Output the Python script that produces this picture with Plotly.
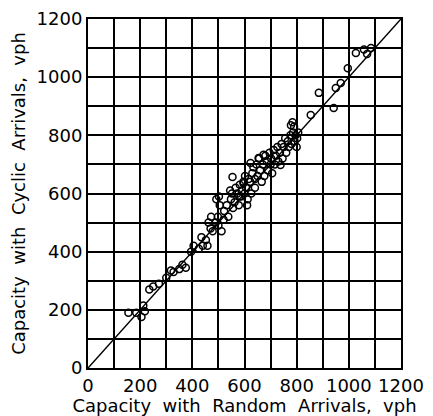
import plotly.graph_objects as go

random_vph = [155, 185, 205, 212, 218, 235, 250, 272, 300, 318, 328, 350, 362, 375, 395, 405, 425, 435, 440, 452, 458,
              462, 470, 478, 472, 490, 500, 498, 505, 502, 492, 512, 520, 522, 532, 538, 548, 552, 556, 562, 566, 572, 578,
              582, 590, 586, 596, 600, 602, 606, 612, 616, 622, 626, 630, 634,
              640, 646, 650, 656, 660, 666, 670, 676, 680, 686, 690, 696, 700, 702, 706, 712, 716, 720, 726, 730, 736,
              742, 746, 738, 750, 756, 760, 766, 770, 776, 780, 786, 790, 792, 796, 800, 802, 806, 778, 784,
              554, 596, 623, 654, 673, 545, 580, 610, 640,
              854, 885, 942, 950, 969, 996, 1027, 1058, 1070, 1085]
cyclic_vph = [190, 190, 175, 215, 195, 270, 280, 290, 310, 335, 330, 340, 355, 345, 400, 420, 410, 450, 420, 440, 420,
              500, 480, 470, 520, 500, 490, 520, 560, 590, 580, 470, 510, 540, 560, 520, 580, 600, 550, 570, 620, 600, 560,
              630, 610, 590, 640, 600, 660, 620, 580, 650, 640, 600, 670, 690,
              650, 700, 660, 720, 680, 640, 700, 660, 730, 710, 680, 740, 700, 720, 670, 750, 700, 730, 760, 710, 740,
              770, 720, 698, 760, 790, 740, 780, 760, 800, 770, 810, 830, 780, 800, 760, 790, 810, 835, 845,
              657, 635, 705, 722, 733, 610, 590, 560, 620,
              870, 946, 894, 963, 980, 1031, 1083, 1095, 1080, 1100]

axis_ticks = [0, 200, 400, 600, 800, 1000, 1200]
line_x = [0, 1200]
line_y = [0, 1200]

x_title = "Capacity\u00a0 with\u00a0 Random\u00a0 Arrivals,\u00a0 vph"
y_title = "Capacity\u00a0 with\u00a0 Cyclic\u00a0 Arrivals,\u00a0 vph"

fig = go.Figure()
fig.add_trace(go.Scatter(x=line_x, y=line_y, mode="lines",
                         line=dict(color="black", width=1.5), showlegend=False, hoverinfo="skip"))
fig.add_trace(go.Scatter(x=random_vph, y=cyclic_vph, mode="markers",
                         marker=dict(symbol="circle-open", size=7, color="black", line=dict(width=1.5)),
                         showlegend=False))

tick_font = dict(family="DejaVu Sans", size=18, color="black")
title_font = dict(family="DejaVu Sans", size=18, color="black")
axis_common = dict(range=[0, 1200], tickvals=axis_ticks, ticktext=[str(t) for t in axis_ticks],
                   showgrid=True, gridcolor="black", gridwidth=2,
                   showline=True, linecolor="black", linewidth=2, mirror=True,
                   zeroline=False, ticks="", tickfont=tick_font, fixedrange=True, automargin=False)

fig.update_layout(
    width=433, height=416,
    margin=dict(l=88, r=32, t=19, b=48),
    paper_bgcolor="white", plot_bgcolor="white",
    xaxis=dict(**axis_common, title=dict(text=x_title, font=title_font, standoff=4)),
    yaxis=dict(**axis_common, title=dict(text=y_title, font=title_font, standoff=6)),
)
fig.update_xaxes(minor=dict(showgrid=True, gridcolor="black", gridwidth=2, dtick=100, tick0=0))
fig.update_yaxes(minor=dict(showgrid=True, gridcolor="black", gridwidth=2, dtick=100, tick0=0))

fig.write_html("out.html")
